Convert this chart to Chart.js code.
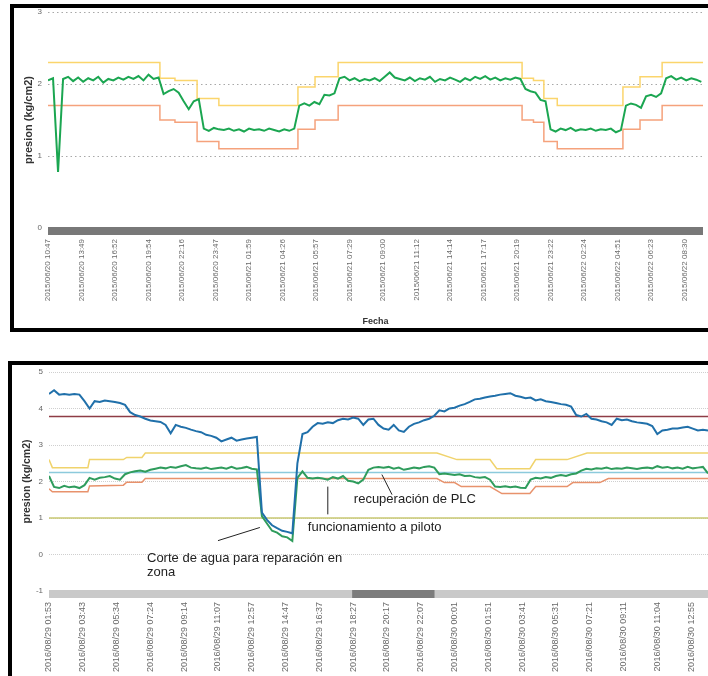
<!DOCTYPE html>
<html><head><meta charset="utf-8">
<script src="https://cdn.jsdelivr.net/npm/chart.js@4.4.0/dist/chart.umd.min.js"></script>
<style>
html,body{margin:0;padding:0;background:#fff;overflow:hidden;width:708px;height:676px;}
.box{position:absolute;border:4px solid #000;box-sizing:border-box;}
canvas{position:absolute;}
</style></head><body>
<div class="box" style="left:10px;top:4px;width:720px;height:328px;"></div>
<div class="box" style="left:8px;top:361px;width:720px;height:400px;"></div>
<canvas id="c1" width="694" height="320" style="left:14px;top:8px;"></canvas>
<canvas id="c2" width="700" height="311" style="left:12px;top:365px;"></canvas>
<script>
// ---------- Chart 1 (2015/06) ----------
const topLabels = ['2015/06/20 10:47','2015/06/20 13:49','2015/06/20 16:52','2015/06/20 19:54','2015/06/20 22:16','2015/06/20 23:47','2015/06/21 01:59','2015/06/21 04:26','2015/06/21 05:57','2015/06/21 07:29','2015/06/21 09:00','2015/06/21 11:12','2015/06/21 14:14','2015/06/21 17:17','2015/06/21 20:19','2015/06/21 23:22','2015/06/22 02:24','2015/06/22 04:51','2015/06/22 06:23','2015/06/22 08:30'];
const topStep = 0.15;
const topPresion = [2.05,2.08,0.78,2.07,2.1,2.04,2.09,2.03,2.08,2.05,2.1,2.02,2.07,2.05,2.09,2.06,2.1,2.07,2.11,2.05,
 2.13,2.07,2.09,1.86,1.9,1.93,1.88,1.76,1.65,1.76,1.79,1.38,1.35,1.39,1.37,1.36,1.38,1.35,1.37,1.34,
 1.38,1.36,1.37,1.35,1.38,1.36,1.34,1.37,1.35,1.38,1.7,1.73,1.7,1.75,1.72,1.85,1.84,1.87,2.08,2.1,
 2.05,2.08,2.04,2.07,2.05,2.08,2.04,2.1,2.16,2.09,2.07,2.05,2.09,2.04,2.08,2.06,2.1,2.03,2.07,2.05,
 2.09,2.06,2.03,2.08,2.05,2.1,2.07,2.11,2.06,2.09,2.05,2.08,2.06,2.09,2.07,1.93,1.9,1.88,1.78,1.76,
 1.37,1.34,1.38,1.36,1.39,1.35,1.37,1.36,1.38,1.35,1.37,1.36,1.38,1.33,1.36,1.7,1.73,1.71,1.67,1.83,
 1.85,1.82,1.87,2.08,2.11,2.06,2.09,2.05,2.08,2.06,2.03];
const topLimX = [0,3.34,3.79,4.45,5.1,7.46,7.97,8.66,14.15,14.49,14.8,15.2,17.16,17.67,18.33,19.55];
const topMax  = [2.3,2.08,2.05,1.8,1.7,1.96,2.1,2.3,2.08,2.05,1.8,1.7,1.96,2.1,2.3,2.3];
const topMin  = [1.7,1.5,1.47,1.2,1.1,1.37,1.5,1.7,1.5,1.47,1.2,1.1,1.37,1.5,1.7,1.7];

// ---------- Chart 2 (2016/08) ----------
const botLabels = ['2016/08/29 01:53','2016/08/29 03:43','2016/08/29 05:34','2016/08/29 07:24','2016/08/29 09:14','2016/08/29 11:07','2016/08/29 12:57','2016/08/29 14:47','2016/08/29 16:37','2016/08/29 18:27','2016/08/29 20:17','2016/08/29 22:07','2016/08/30 00:01','2016/08/30 01:51','2016/08/30 03:41','2016/08/30 05:31','2016/08/30 07:21','2016/08/30 09:11','2016/08/30 11:04','2016/08/30 12:55'];
const botStep = 0.15;
const botEntrada = [4.4,4.5,4.38,4.4,4.38,4.4,4.38,4.2,4.0,4.2,4.18,4.22,4.2,4.18,4.15,4.1,3.9,3.82,3.78,3.72,
 3.67,3.65,3.63,3.55,3.32,3.55,3.5,3.47,3.42,3.38,3.35,3.28,3.25,3.2,3.1,3.15,3.2,3.12,3.15,3.18,
 3.2,3.22,1.15,0.95,0.8,0.72,0.65,0.62,0.58,2.5,3.3,3.35,3.5,3.6,3.58,3.62,3.6,3.68,3.72,3.7,
 3.75,3.72,3.55,3.7,3.72,3.55,3.45,3.42,3.55,3.4,3.36,3.5,3.58,3.62,3.68,3.72,3.8,3.95,3.92,4.0,
 4.02,4.08,4.12,4.18,4.25,4.27,4.3,4.33,4.35,4.38,4.4,4.42,4.35,4.32,4.28,4.3,4.22,4.25,4.2,4.18,
 4.15,4.12,4.1,4.05,3.82,3.78,3.85,3.72,3.7,3.65,3.62,3.55,3.72,3.68,3.7,3.65,3.62,3.6,3.58,3.52,
 3.3,3.4,3.42,3.45,3.45,3.48,3.5,3.45,3.4,3.42,3.4];
const botSalida = [2.15,1.85,1.82,1.88,1.84,1.86,1.82,1.9,2.1,2.05,2.1,2.12,2.15,2.08,2.05,2.2,2.25,2.28,2.3,2.27,
 2.32,2.35,2.38,2.36,2.4,2.38,2.42,2.45,2.38,2.36,2.35,2.38,2.34,2.36,2.38,2.35,2.4,2.35,2.37,2.4,
 2.35,2.33,1.05,0.85,0.65,0.6,0.5,0.47,0.37,2.1,2.28,2.1,2.08,2.1,2.08,2.05,2.12,2.08,2.15,2.02,
 2.0,1.95,2.05,2.32,2.38,2.4,2.38,2.4,2.35,2.38,2.32,2.35,2.38,2.36,2.4,2.42,2.38,2.2,2.22,2.2,
 2.18,2.2,2.15,2.16,2.12,2.1,2.12,2.05,1.86,1.85,1.87,1.84,1.86,1.83,1.82,2.05,2.1,2.08,2.12,2.1,
 2.15,2.18,2.15,2.2,2.22,2.3,2.35,2.33,2.36,2.35,2.38,2.34,2.36,2.35,2.38,2.36,2.34,2.37,2.38,2.36,
 2.42,2.38,2.4,2.36,2.38,2.35,2.4,2.36,2.38,2.4,2.22];
const botMaxX = [0,0.1,1.15,1.2,2.2,2.3,2.75,2.85,11.48,12.07,13.05,13.25,14.23,14.4,15.33,15.92,19.5];
const botMaxY = [2.6,2.38,2.38,2.6,2.6,2.66,2.66,2.78,2.78,2.6,2.6,2.35,2.35,2.6,2.6,2.78,2.78];
const botMinX = [0,0.1,1.15,1.2,2.2,2.3,2.75,2.85,11.48,11.7,12.0,12.2,13.05,13.4,14.23,14.4,15.33,15.5,16.3,16.55,19.5];
const botMinY = [1.8,1.72,1.72,1.88,1.9,1.98,1.98,2.08,2.08,1.97,1.97,1.86,1.86,1.67,1.67,1.86,1.86,1.97,1.97,2.08,2.08];
const botAlarmaAlta = 3.78;
const botConsigna = 2.25;
const botAlarmaBaja = 1.0;
const notes = [
  {text:'Corte de agua para reparación en', x:2.9, y:-0.11},
  {text:'zona', x:2.9, y:-0.5},
  {text:'funcionamiento a piloto', x:7.66, y:0.74},
  {text:'recuperación de PLC', x:9.02, y:1.5}
];
const pointers = [
  {x1:5.0, y1:0.38, x2:6.24, y2:0.74},
  {x1:8.25, y1:1.86, x2:8.25, y2:1.1},
  {x1:9.85, y1:2.19, x2:10.15, y2:1.64}
];

const FONT = "'Liberation Sans', Arial, sans-serif";
Chart.defaults.font.family = FONT;

const series = (arr, step) => arr.map((v, i) => ({x: +(i*step).toFixed(3), y: v}));
const pairs = (xs, ys) => xs.map((x, i) => ({x, y: ys[i]}));
const hline = (v, xmax) => [{x:0, y:v}, {x:xmax, y:v}];

const navBar = {
  id: 'navBar',
  afterDraw(chart, args, o) {
    const a = chart.chartArea, ctx = chart.ctx;
    ctx.save();
    ctx.fillStyle = o.color;
    ctx.fillRect(a.left, a.bottom - 1, a.right - a.left, 8);
    if (o.thumbColor) {
      const w = a.right - a.left;
      ctx.fillStyle = o.thumbColor;
      ctx.fillRect(a.left + w*o.from, a.bottom - 1, w*(o.to - o.from), 8);
    }
    ctx.restore();
  }
};
const notesPlugin = {
  id: 'notes',
  afterDatasetsDraw(chart, args, o) {
    if (!o.items) return;
    const ctx = chart.ctx, xs = chart.scales.x, ys = chart.scales.y;
    ctx.save();
    ctx.strokeStyle = '#222'; ctx.lineWidth = 1;
    o.lines.forEach(l => {
      ctx.beginPath();
      ctx.moveTo(xs.getPixelForValue(l.x1), ys.getPixelForValue(l.y1));
      ctx.lineTo(xs.getPixelForValue(l.x2), ys.getPixelForValue(l.y2));
      ctx.stroke();
    });
    ctx.fillStyle = '#222';
    ctx.font = '13px ' + FONT;
    ctx.textBaseline = 'middle';
    o.items.forEach(n => ctx.fillText(n.text, xs.getPixelForValue(n.x), ys.getPixelForValue(n.y)));
    ctx.restore();
  }
};

function xAxis(labels, xmax, height, title) {
  return {
    type: 'linear', min: 0, max: xmax,
    grid: {display: false, drawTicks: false},
    border: {display: false},
    afterBuildTicks: s => { s.ticks = labels.map((_, i) => ({value: i})); },
    ticks: {autoSkip: false, minRotation: 90, maxRotation: 90, padding: 11,
            font: {size: height > 90 ? 8 : 9}, color: '#6a6a6a',
            callback: v => labels[v] || ''},
    title: title ? {display: true, text: title, font: {size: 9, weight: 'bold'}, color: '#333', padding: {top: 0, bottom: 1}} : {display: false},
    afterFit: s => { s.height = height; s.paddingLeft = 0; s.paddingRight = 0; }
  };
}
function yAxis(min, max, width, gridColor, dash, titleSize, titlePad) {
  return {
    min, max,
    ticks: {stepSize: 1, padding: 6, font: {size: 8}, color: '#666'},
    grid: {color: gridColor, drawTicks: false, lineWidth: 1},
    border: {display: false, dash: dash},
    title: {display: true, text: 'presion (kg/cm2)', font: {size: titleSize, weight: 'bold'}, color: '#333', padding: {top: titlePad, bottom: 0}},
    afterFit: s => { s.width = width; s.paddingTop = 0; s.paddingBottom = 0; }
  };
}
const lineDs = (data, color, width, order, extra) => Object.assign({
  data, borderColor: color, borderWidth: width, pointRadius: 0, tension: 0, fill: false, order
}, extra || {});

new Chart(document.getElementById('c1'), {
  type: 'line',
  data: {datasets: [
    lineDs(series(topPresion, topStep), '#1ba651', 2, 0),
    lineDs(pairs(topLimX, topMin), '#f5a27c', 1.5, 1, {stepped: true}),
    lineDs(pairs(topLimX, topMax), '#fbd56c', 1.5, 2, {stepped: true})
  ]},
  options: {
    responsive: false, animation: false, devicePixelRatio: 1,
    layout: {padding: {left: 0, right: 5, top: 4, bottom: 0}},
    plugins: {legend: {display: false}, tooltip: {enabled: false}, navBar: {color: '#787878'}},
    scales: {x: xAxis(topLabels, 19.55, 100, 'Fecha'), y: yAxis(0, 3, 34, '#a8a8a8', [1.5, 3], 11, 8)}
  },
  plugins: [navBar]
});

new Chart(document.getElementById('c2'), {
  type: 'line',
  data: {datasets: [
    lineDs(series(botEntrada, botStep), '#2070aa', 2, 0),
    lineDs(series(botSalida, botStep), '#2f9c5c', 2, 1),
    lineDs(pairs(botMinX, botMinY), '#e8926c', 1.5, 2),
    lineDs(pairs(botMaxX, botMaxY), '#f0d36c', 1.5, 3),
    lineDs(hline(botConsigna, 19.5), '#8ccadc', 1.5, 4),
    lineDs(hline(botAlarmaAlta, 19.5), '#8e3c46', 1.5, 5),
    lineDs(hline(botAlarmaBaja, 19.5), '#c9c872', 1.5, 6)
  ]},
  options: {
    responsive: false, animation: false, devicePixelRatio: 1,
    layout: {padding: {left: 0, right: 4, top: 7, bottom: 0}},
    plugins: {legend: {display: false}, tooltip: {enabled: false},
      navBar: {color: '#c9c9c9', thumbColor: '#7c7c7c', from: 0.46, to: 0.585},
      notes: {items: notes, lines: pointers}},
    scales: {x: xAxis(botLabels, 19.5, 85, null), y: yAxis(-1, 5, 37, '#cfcfcf', [1, 1], 10.5, 9)}
  },
  plugins: [navBar, notesPlugin]
});
</script>
</body></html>
